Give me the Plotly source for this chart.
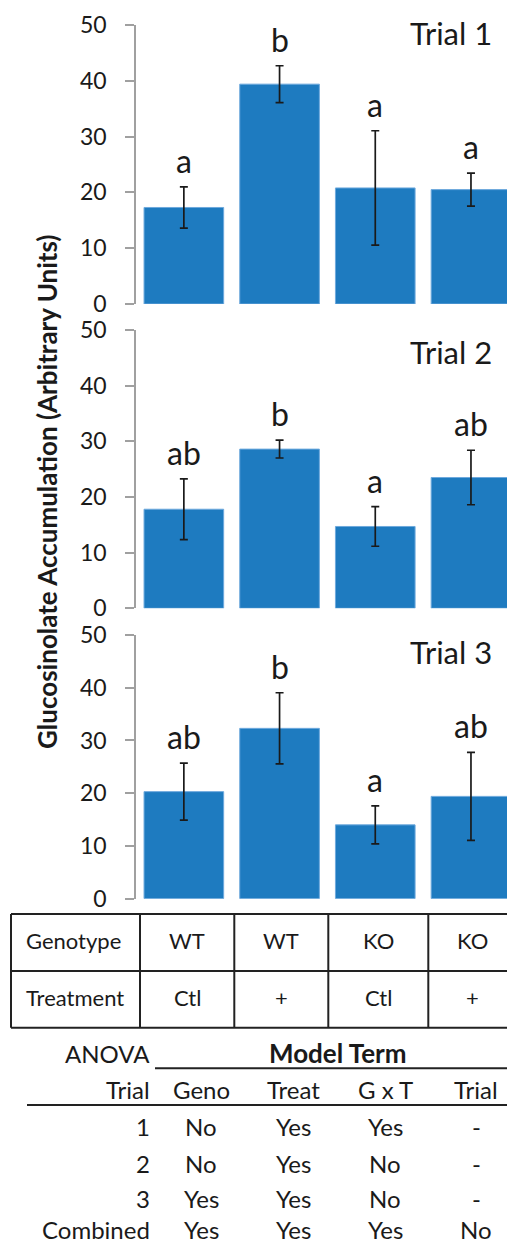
import plotly.graph_objects as go

# ---------------- data ----------------
categories = ["WT Ctl", "WT +", "KO Ctl", "KO +"]
trial_names = ["Trial 1", "Trial 2", "Trial 3"]
trial1_means = [17.3, 39.4, 20.8, 20.5]
trial1_errs = [3.7, 3.3, 10.25, 2.95]
trial1_letters = ["a", "b", "a", "a"]
trial2_means = [17.8, 28.6, 14.7, 23.5]
trial2_errs = [5.45, 1.6, 3.55, 4.9]
trial2_letters = ["ab", "b", "a", "ab"]
trial3_means = [20.3, 32.3, 14.0, 19.4]
trial3_errs = [5.4, 6.75, 3.6, 8.35]
trial3_letters = ["ab", "b", "a", "ab"]
y_ticks = [0, 10, 20, 30, 40, 50]

genotype_row = ["Genotype", "WT", "WT", "KO", "KO"]
treatment_row = ["Treatment", "Ctl", "+", "Ctl", "+"]

anova_cols = ["Geno", "Treat", "G x T", "Trial"]
anova_rows = ["1", "2", "3", "Combined"]
anova_geno = ["No", "No", "Yes", "Yes"]
anova_treat = ["Yes", "Yes", "Yes", "Yes"]
anova_gxt = ["Yes", "No", "No", "Yes"]
anova_trial = ["-", "-", "-", "No"]

# ---------------- layout helpers ----------------
PAGE_W, PAGE_H = 515, 1245
OFF = 8  # default page body margin
W, H = PAGE_W - OFF, PAGE_H - OFF
FONT = "Lato"
TXT = "#1a1a1a"
BAR = "#1e7bc0"


def px(x):
    return (x - OFF) / W


def py(y):
    return 1 - (y - OFF) / H


panel_px = [(25, 304), (330, 608.3), (635, 898.7)]
trial_label_y = [33, 352, 652]

means = [trial1_means, trial2_means, trial3_means]
errs = [trial1_errs, trial2_errs, trial3_errs]
letters = [trial1_letters, trial2_letters, trial3_letters]

fig = go.Figure()
annotations = []
shapes = []

for i in range(3):
    ax = "" if i == 0 else str(i + 1)
    fig.add_trace(go.Bar(
        x=list(range(4)), y=means[i],
        marker=dict(color=BAR, line=dict(color="#6ea9dd", width=1)),
        error_y=dict(type="data", array=errs[i], color=TXT, thickness=1.7, width=4),
        xaxis="x" + ax, yaxis="y" + ax, showlegend=False,
        hoverinfo="skip",
    ))
    top, bot = panel_px[i]
    fig.layout["xaxis" + ax] = dict(
        domain=[px(136), 1], range=[-0.5, 3.46], anchor="y" + ax,
        showticklabels=False, showline=False, showgrid=False, zeroline=False,
        ticks="", automargin=False,
    )
    fig.layout["yaxis" + ax] = dict(
        domain=[py(bot), py(top)], range=[0, 50], anchor="x" + ax,
        tickvals=y_ticks, showline=True, linecolor="#a0a0a0", linewidth=1.5,
        ticks="outside", ticklen=9, tickwidth=1.5, tickcolor="#a0a0a0",
        showgrid=False, zeroline=False, automargin=False,
        tickfont=dict(family=FONT, size=23, color=TXT),
        ticklabelstandoff=14,
    )
    for j in range(4):
        annotations.append(dict(
            x=j, y=means[i][j] + errs[i][j], xref="x" + ax, yref="y" + ax,
            text=letters[i][j], showarrow=False, yanchor="bottom", yshift=5,
            font=dict(family=FONT, size=32, color=TXT),
        ))
    annotations.append(dict(
        x=px(451), y=py(trial_label_y[i]), xref="paper", yref="paper",
        text=trial_names[i], showarrow=False, xanchor="center", yanchor="middle",
        font=dict(family=FONT, size=31, color=TXT),
    ))

# y-axis title
annotations.append(dict(
    x=px(47), y=py(492), xref="paper", yref="paper", textangle=-90,
    text="<b>Glucosinolate Accumulation (Arbitrary Units)</b>", showarrow=False,
    xanchor="center", yanchor="middle",
    font=dict(family=FONT, size=26, color=TXT),
))

# ---------------- genotype / treatment table ----------------
line_c = "#222222"
row_edges = [914, 971, 1027.7]
col_edges = [11, 140, 234.3, 328.3, 428.3, 517]
for ry in row_edges:
    shapes.append(dict(type="line", xref="paper", yref="paper",
                       x0=px(11), x1=1, y0=py(ry), y1=py(ry),
                       line=dict(color=line_c, width=2)))
for cx in col_edges[:-1]:
    shapes.append(dict(type="line", xref="paper", yref="paper",
                       x0=px(cx), x1=px(cx), y0=py(row_edges[0]), y1=py(row_edges[-1]),
                       line=dict(color=line_c, width=2)))
TF = 22
for r, row in enumerate([genotype_row, treatment_row]):
    yc = (row_edges[r] + row_edges[r + 1]) / 2 - 2
    for c, txt in enumerate(row):
        if c == 0:
            annotations.append(dict(x=px(24), y=py(yc), xref="paper", yref="paper",
                                    text=txt, showarrow=False, xanchor="left", yanchor="middle",
                                    font=dict(family=FONT, size=TF, color=TXT)))
        else:
            xc = (col_edges[c] + col_edges[c + 1]) / 2
            annotations.append(dict(x=px(xc), y=py(yc), xref="paper", yref="paper",
                                    text=txt, showarrow=False, xanchor="center", yanchor="middle",
                                    font=dict(family=FONT, size=TF, color=TXT)))

# ---------------- ANOVA table ----------------
label_right = 152
anova_col_x = [201, 293, 385, 476]
AF = 24
annotations.append(dict(x=px(label_right), y=py(1053), xref="paper", yref="paper",
                        text="ANOVA", showarrow=False, xanchor="right", yanchor="middle",
                        font=dict(family=FONT, size=AF, color=TXT)))
annotations.append(dict(x=px(338), y=py(1053), xref="paper", yref="paper",
                        text="<b>Model Term</b>", showarrow=False, xanchor="center", yanchor="middle",
                        font=dict(family=FONT, size=26, color=TXT)))
shapes.append(dict(type="line", xref="paper", yref="paper", x0=px(155), x1=1,
                   y0=py(1068.3), y1=py(1068.3), line=dict(color=line_c, width=2)))
annotations.append(dict(x=px(label_right), y=py(1089), xref="paper", yref="paper",
                        text="Trial", showarrow=False, xanchor="right", yanchor="middle",
                        font=dict(family=FONT, size=AF, color=TXT)))
for k, name in enumerate(anova_cols):
    annotations.append(dict(x=px(anova_col_x[k]), y=py(1089), xref="paper", yref="paper",
                            text=name, showarrow=False, xanchor="center", yanchor="middle",
                            font=dict(family=FONT, size=AF, color=TXT)))
shapes.append(dict(type="line", xref="paper", yref="paper", x0=px(27), x1=1,
                   y0=py(1105), y1=py(1105), line=dict(color=line_c, width=2)))
row_y = [1126.7, 1163.3, 1198.5, 1229.5]
cols_vals = [anova_geno, anova_treat, anova_gxt, anova_trial]
for r, lab in enumerate(anova_rows):
    annotations.append(dict(x=px(label_right), y=py(row_y[r]), xref="paper", yref="paper",
                            text=lab, showarrow=False, xanchor="right", yanchor="middle",
                            font=dict(family=FONT, size=AF, color=TXT)))
    for k in range(4):
        annotations.append(dict(x=px(anova_col_x[k]), y=py(row_y[r]), xref="paper", yref="paper",
                                text=cols_vals[k][r], showarrow=False, xanchor="center",
                                yanchor="middle",
                                font=dict(family=FONT, size=AF, color=TXT)))

fig.update_layout(
    width=W, height=H, margin=dict(l=0, r=0, t=0, b=0, pad=0, autoexpand=False),
    paper_bgcolor="white", plot_bgcolor="white",
    bargap=0.168, annotations=annotations, shapes=shapes,
    font=dict(family=FONT, color=TXT),
)

fig.write_html("out.html")
